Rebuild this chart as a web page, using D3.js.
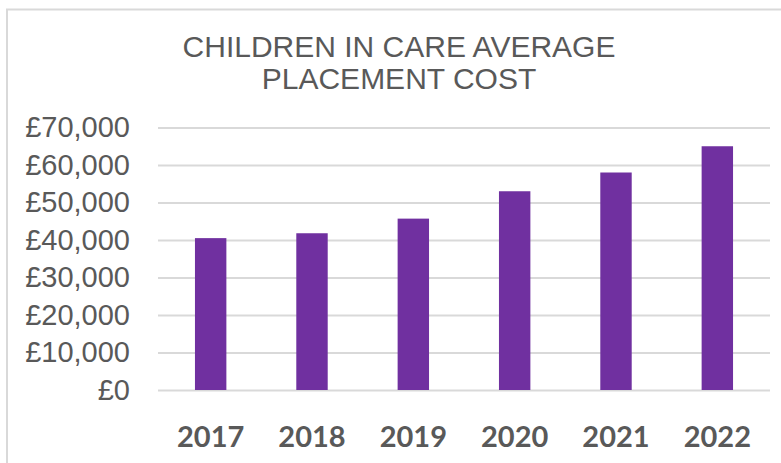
<!DOCTYPE html>
<html>
<head>
<meta charset="utf-8">
<script src="https://cdn.jsdelivr.net/npm/d3@7"></script>
<style>
  html, body { margin: 0; padding: 0; background: #fff; }
  svg { display: block; }
</style>
</head>
<body>
<svg id="chart" width="781" height="463"></svg>
<script>
// Average placement cost per child in care, by year
const years = ["2017", "2018", "2019", "2020", "2021", "2022"];
const costs = [40500, 41800, 45700, 53000, 58000, 65000];
const yTicks = [0, 10000, 20000, 30000, 40000, 50000, 60000, 70000];
const titleLines = ["CHILDREN IN CARE AVERAGE", "PLACEMENT COST"];

const svg = d3.select("#chart");
const W = 781, H = 463;
const plot = { left: 158, right: 770, top: 127.5, bottom: 390 };

// chart frame
svg.append("rect")
  .attr("x", 7).attr("y", 9.5)
  .attr("width", W + 20).attr("height", H + 20)
  .attr("fill", "#fff")
  .attr("stroke", "#d9d9d9").attr("stroke-width", 2);

// title
svg.append("g").selectAll("text")
  .data(titleLines)
  .join("text")
  .attr("x", 399)
  .attr("y", (d, i) => 56.5 + i * 32)
  .attr("text-anchor", "middle")
  .attr("font-family", "'Liberation Sans', Arial, sans-serif")
  .attr("font-size", 30)
  .attr("fill", "#595959")
  .text(d => d);

const x = d3.scaleBand()
  .domain(years)
  .range([160, 768])
  .paddingInner(0.69)
  .paddingOuter(0.345);

const y = d3.scaleLinear()
  .domain([0, 70000])
  .range([plot.bottom, plot.top]);

const fmt = v => "£" + d3.format(",")(v);

// gridlines + value labels
const yAxis = d3.axisLeft(y)
  .tickValues(yTicks)
  .tickFormat(fmt)
  .tickSize(-(plot.right - plot.left))
  .tickPadding(28);

const gy = svg.append("g")
  .attr("transform", `translate(${plot.left},0)`)
  .call(yAxis);
gy.select(".domain").remove();
gy.selectAll(".tick line")
  .attr("stroke", "#d9d9d9")
  .attr("stroke-width", 2);
gy.selectAll(".tick text")
  .attr("font-family", "'Liberation Sans', Arial, sans-serif")
  .attr("font-size", 29)
  .attr("fill", "#595959");

// bars
svg.append("g").selectAll("rect")
  .data(years.map((yr, i) => ({ yr, v: costs[i] })))
  .join("rect")
  .attr("x", d => x(d.yr))
  .attr("width", x.bandwidth())
  .attr("y", d => y(d.v))
  .attr("height", d => y(0) - y(d.v))
  .attr("fill", "#7030a0");

// category labels
const xAxis = d3.axisBottom(x).tickSize(0).tickPadding(0);
const gx = svg.append("g")
  .attr("transform", `translate(0,${plot.bottom})`)
  .call(xAxis);
gx.select(".domain").remove();
gx.selectAll(".tick text")
  .attr("y", 56.5)
  .attr("dy", null)
  .attr("font-family", "Lato, 'Open Sans', sans-serif")
  .attr("font-weight", "bold")
  .attr("font-size", 29)
  .attr("fill", "#595959");
</script>
</body>
</html>
